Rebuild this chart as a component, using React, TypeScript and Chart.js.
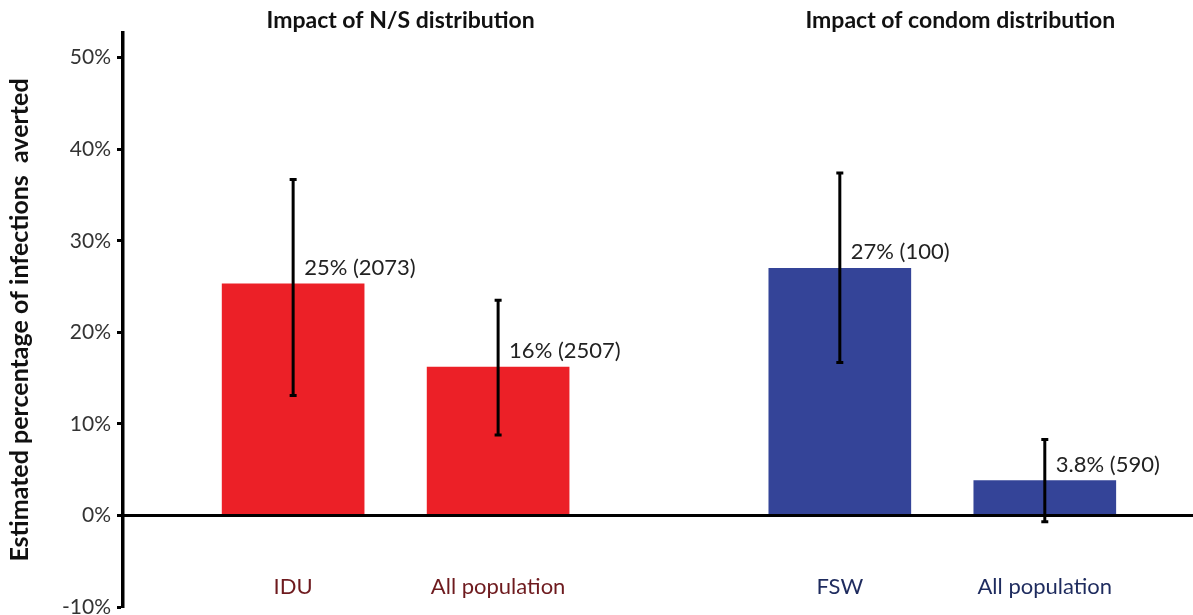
import React, { useEffect, useRef } from "react";
import { Chart, registerables } from "chart.js";

Chart.register(...registerables);

// ---- data ----
const categories = ["IDU", "All population", "FSW", "All population"];
const groupOfBar = [0, 0, 1, 1];
const groupTitles = ["Impact of N/S distribution", "Impact of condom distribution"];
const xPositions = [1, 2, 3.667, 4.667];
const values = [25.3, 16.2, 27.0, 3.8];
const errLow = [13.1, 8.8, 16.7, -0.7];
const errHigh = [36.7, 23.5, 37.4, 8.3];
const valueLabels = ["25% (2073)", "16% (2507)", "27% (100)", "3.8% (590)"];
const yTicks = [-10, 0, 10, 20, 30, 40, 50];

// ---- styles ----
const barColors = ["#EC2027", "#EC2027", "#344498", "#344498"];
const labelColors = ["#6E1A1E", "#6E1A1E", "#1E2B5E", "#1E2B5E"];
const FONT = "Lato";

const overlay = {
  id: "overlay",
  afterDatasetsDraw(chart: any) {
    const { ctx, chartArea } = chart;
    const x = chart.scales.x;
    const y = chart.scales.y;
    ctx.save();
    const y0 = y.getPixelForValue(0);
    // zero line
    ctx.strokeStyle = "#000";
    ctx.lineWidth = 3;
    ctx.beginPath();
    ctx.moveTo(chartArea.left, y0);
    ctx.lineTo(chartArea.right, y0);
    ctx.stroke();

    values.forEach((v, i) => {
      const px = x.getPixelForValue(xPositions[i]);
      const top = y.getPixelForValue(errHigh[i]);
      const bot = y.getPixelForValue(errLow[i]);
      ctx.strokeStyle = "#000";
      ctx.lineWidth = 3;
      ctx.beginPath();
      ctx.moveTo(px, top);
      ctx.lineTo(px, bot);
      ctx.stroke();
      ctx.beginPath();
      ctx.moveTo(px - 3.5, top);
      ctx.lineTo(px + 3.5, top);
      ctx.moveTo(px - 3.5, bot);
      ctx.lineTo(px + 3.5, bot);
      ctx.stroke();

      ctx.font = `22px ${FONT}`;
      ctx.fillStyle = "#222";
      ctx.textAlign = "left";
      ctx.textBaseline = "middle";
      ctx.fillText(valueLabels[i], px + 11, y.getPixelForValue(v) - 16);

      ctx.font = `22px ${FONT}`;
      ctx.fillStyle = labelColors[i];
      ctx.textAlign = "center";
      ctx.fillText(categories[i], px, y0 + 71);
    });

    groupTitles.forEach((t, g) => {
      const idx = groupOfBar.map((gg, i) => (gg === g ? i : -1)).filter((i) => i >= 0);
      const cx =
        idx.reduce((s, i) => s + x.getPixelForValue(xPositions[i]), 0) / idx.length;
      ctx.font = `bold 23px ${FONT}`;
      ctx.fillStyle = "#111";
      ctx.textAlign = "center";
      ctx.textBaseline = "middle";
      ctx.fillText(t, cx + (g === 1 ? 18 : 5), 21);
    });
    ctx.restore();
  },
};

export default function App() {
  const ref = useRef<HTMLCanvasElement>(null);
  useEffect(() => {
    if (!ref.current) return;
    const chart = new Chart(ref.current, {
      type: "bar",
      data: {
        datasets: [
          {
            data: xPositions.map((xv, i) => ({ x: xv, y: values[i] })) as any,
            backgroundColor: barColors,
            borderWidth: 0,
            barThickness: 142,
          },
        ],
      },
      options: {
        responsive: false,
        animation: false,
        layout: { padding: { top: 33, bottom: 8, left: 0, right: 0 } },
        plugins: { legend: { display: false }, tooltip: { enabled: false } },
        scales: {
          x: { type: "linear", min: 0.17, max: 5.39, display: false, offset: false },
          y: {
            min: -10,
            max: 52.7,
            afterFit: (s: any) => {
              s.width = 123;
              s.paddingTop = 0;
              s.paddingBottom = 0;
            },
            afterBuildTicks: (s: any) => {
              s.ticks = yTicks.map((v) => ({ value: v }));
            },
            ticks: {
              callback: (v: any) => v + "%",
              font: { family: FONT, size: 21 },
              color: "#333",
              padding: 6,
            },
            grid: {
              drawOnChartArea: false,
              drawTicks: true,
              tickLength: 6,
              tickColor: "#000",
              tickWidth: 3,
            },
            border: { display: true, color: "#000", width: 3.5 },
            title: {
              display: true,
              text: "Estimated percentage of infections  averted",
              font: { family: FONT, size: 25, weight: "bold" },
              color: "#111",
              padding: { top: 5, bottom: 0 },
            },
          },
        },
      },
      plugins: [overlay],
    });
    return () => chart.destroy();
  }, []);
  return (
    <div style={{ position: "absolute", left: 0, top: 0, width: 1193, height: 615, background: "#fff" }}>
      <canvas ref={ref} width={1193} height={615} style={{ display: "block" }} />
    </div>
  );
}
